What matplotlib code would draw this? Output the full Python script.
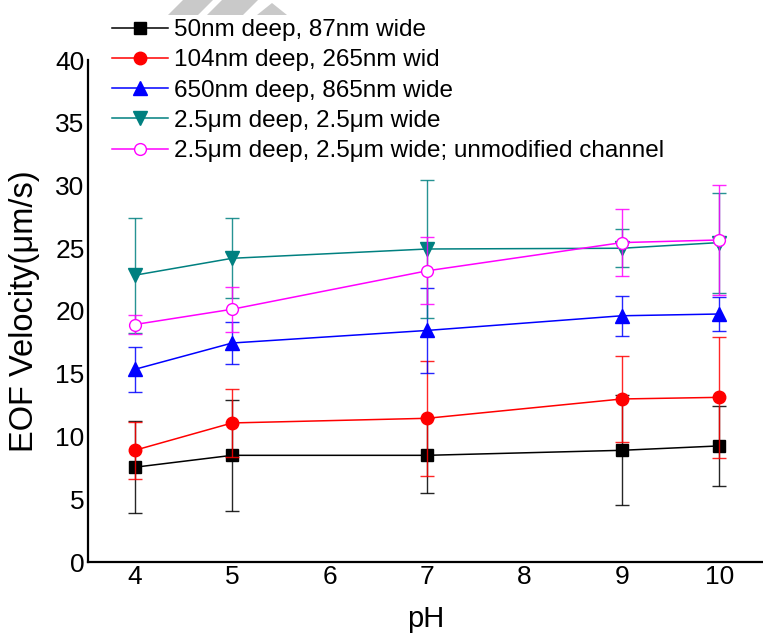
import matplotlib
matplotlib.use("Agg")
import matplotlib.pyplot as plt
from matplotlib.patches import Polygon

plt.rcParams["font.family"] = ["Liberation Sans", "DejaVu Sans"]

# pH values and EOF velocity (um/s) with error bars
ph = [4, 5, 7, 9, 10]

v_50nm = [7.55, 8.5, 8.5, 8.9, 9.25]
e_50nm = [3.67, 4.44, 3.0, 4.38, 3.2]

v_104nm = [8.9, 11.08, 11.45, 12.99, 13.12]
e_104nm = [2.28, 2.7, 4.58, 3.4, 4.83]

v_650nm = [15.35, 17.45, 18.45, 19.62, 19.76]
e_650nm = [1.77, 1.7, 3.4, 1.6, 1.37]

v_25um = [22.85, 24.2, 24.94, 25.0, 25.45]
e_25um = [4.57, 3.2, 5.5, 1.52, 3.98]

v_25um_unmod = [18.92, 20.14, 23.2, 25.45, 25.66]
e_25um_unmod = [0.73, 1.8, 2.68, 2.69, 4.4]

labels = [
    "50nm deep, 87nm wide",
    "104nm deep, 265nm wid",
    "650nm deep, 865nm wide",
    "2.5\u03bcm deep, 2.5\u03bcm wide",
    "2.5\u03bcm deep, 2.5\u03bcm wide; unmodified channel",
]

series = [
    (v_50nm, e_50nm, "black", "s", "black", 8),
    (v_104nm, e_104nm, "#ff0000", "o", "#ff0000", 9),
    (v_650nm, e_650nm, "#0000ff", "^", "#0000ff", 10),
    (v_25um, e_25um, "#008080", "v", "#008080", 10),
    (v_25um_unmod, e_25um_unmod, "#ff00ff", "o", "white", 8.5),
]

W, H = 763, 634
fig = plt.figure(figsize=(W / 100, H / 100), dpi=100)
ax = fig.add_axes([88 / W, (H - 562) / H, (W - 88) / W, 502 / H])

handles = []
for (vals, errs, col, mk, fc, ms), lab in zip(series, labels):
    ax.errorbar(ph, vals, yerr=errs, fmt="none", ecolor=col, elinewidth=1,
                capsize=4.7, capthick=1, alpha=0.85)
    ln, = ax.plot(ph, vals, color=col, lw=1.1, marker=mk, markersize=ms,
                  markerfacecolor=fc, markeredgecolor=col, markeredgewidth=1,
                  label=lab)
    handles.append(ln)

ax.set_xlim(3.52, 10.45)
ax.set_ylim(0, 40)
ax.set_xticks([4, 5, 6, 7, 8, 9, 10])
ax.set_yticks(range(0, 41, 5))
ax.tick_params(length=0, labelsize=19, pad=2.5)

for side in ["top", "right"]:
    ax.spines[side].set_visible(False)
for side in ["left", "bottom"]:
    ax.spines[side].set_linewidth(1.6)

ax.set_xlabel("pH", fontsize=21, va="center")
ax.set_ylabel("EOF Velocity(\u03bcm/s)", fontsize=23.5)
ax.xaxis.set_label_coords(0.5, -0.1135)
ax.yaxis.set_label_coords(-0.071, 0.5)

fig.legend(handles=handles, loc="upper left",
           bbox_to_anchor=(112 / W, 1 - 19 / H), frameon=False,
           fontsize=17.5, borderpad=0, borderaxespad=0,
           handlelength=2.3, handletextpad=0.25, labelspacing=0.34)

# faint watermark stripes at the top edge
px = lambda x, y: (x / W, 1 - y / H)
for pts in [[(168, 15), (198, 15), (213, 0), (183, 0)],
            [(207, 15), (243, 15), (258, 0), (222, 0)],
            [(257, 15), (272, 3), (287, 15)]]:
    fig.patches.append(Polygon([px(*p) for p in pts], closed=True,
                               transform=fig.transFigure, color="#c9c9c9",
                               lw=0, zorder=0))

fig.savefig("out.png", dpi=100)
